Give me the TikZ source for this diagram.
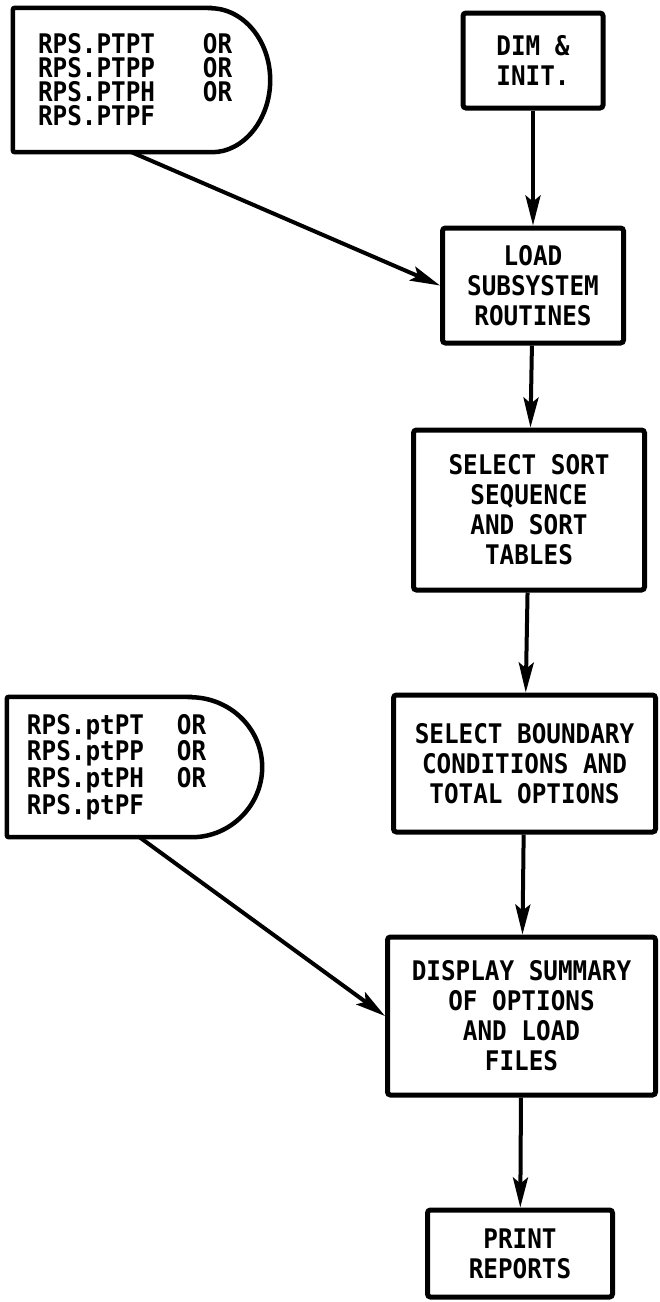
\documentclass[tikz,border=0pt]{standalone}
\usepackage{fontspec}
\setmonofont[FakeStretch=0.9]{DejaVu Sans Mono}
\usepackage{tikz}
\usetikzlibrary{shapes, arrows.meta, positioning}
\tikzstyle{block} = [rectangle, draw, line width=5pt, rounded corners=3pt,
text centered, align=center, inner sep=0pt, font=\ttfamily\bfseries\fontsize{27}{30}\selectfont]
\tikzstyle{source} = [rectangle, align=left, inner sep=0pt, font=\ttfamily\bfseries\fontsize{27}{24}\selectfont]
\tikzstyle{outline} = [draw, line width=4.5pt, rounded corners=2pt]
\tikzstyle{line} = [draw, line width=4pt, -{Stealth[length=30pt, width=15pt, inset=6pt]}]
\newcommand{\orline}[2]{\makebox[#1][l]{#2}OR}

\begin{document}
\begin{tikzpicture}
	\useasboundingbox (0,0) rectangle (660pt,-1302pt);
	
	% Place nodes
	\node [block, minimum width=140pt, minimum height=95pt] at (533pt,-60.5pt) (DIM) {DIM \&\\INIT.};
	\node [block, below=115pt of DIM, minimum width=181pt, minimum height=115pt] (LOAD) {LOAD\\SUBSYSTEM\\ROUTINES};
	\node [block, below=82pt of LOAD, xshift=-4pt, minimum width=231pt, minimum height=160pt] (SORT) {SELECT SORT\\SEQUENCE\\AND SORT\\TABLES};
	\node [block, below=100pt of SORT, xshift=-4.5pt, minimum width=262pt, minimum height=137pt] (BOUND) {SELECT BOUNDARY\\CONDITIONS AND\\TOTAL OPTIONS};
	\node [block, below=100pt of BOUND, xshift=-3pt, minimum width=268pt, minimum height=158pt] (DISP) {DISPLAY SUMMARY\\OF OPTIONS\\AND LOAD\\FILES};
	\node [block, below=110pt of DISP, xshift=-1.5pt, minimum width=185pt, minimum height=87pt] (PRINT) {PRINT\\REPORTS};
	
	\node [source, minimum width=257pt, minimum height=144pt, text width=207pt] at (141.5pt,-80pt) (SRC1)
		{\orline{165pt}{RPS.PTPT}\\\orline{165pt}{RPS.PTPP}\\\orline{165pt}{RPS.PTPH}\\RPS.PTPF};
	\node [source, minimum width=255pt, minimum height=140pt, text width=215pt] at (134.5pt,-767pt) (SRC2)
		{\orline{150pt}{RPS.ptPT}\\\orline{150pt}{RPS.ptPP}\\\orline{150pt}{RPS.ptPH}\\RPS.ptPF};
	
	% Outline of sources
	\path [outline] ([xshift=-60pt]SRC1.north east) -- (SRC1.north west) -- (SRC1.south west)
		-- ([xshift=-60pt]SRC1.south east) [sharp corners] arc[start angle=-90, end angle=90, x radius=60pt, y radius=72pt] -- cycle;
	\path [outline] ([xshift=-72pt]SRC2.north east) -- (SRC2.north west) -- (SRC2.south west)
		-- ([xshift=-72pt]SRC2.south east) [sharp corners] arc[start angle=-90, end angle=90, x radius=72pt, y radius=70pt] -- cycle;
	
	%Draw edges
	\path [line] (DIM)   -- (LOAD);
	\path [line] (LOAD)  -- (SORT);
	\path [line] (SORT)  -- (BOUND);
	\path [line] (BOUND) -- (DISP);
	\path [line] (DISP)  -- (PRINT);
	\path [line] ([xshift=-10pt]SRC1.south) -- (LOAD.west);
	\path [line] ([xshift=5pt]SRC2.south)   -- (DISP.west);
	
\end{tikzpicture}
\end{document}
